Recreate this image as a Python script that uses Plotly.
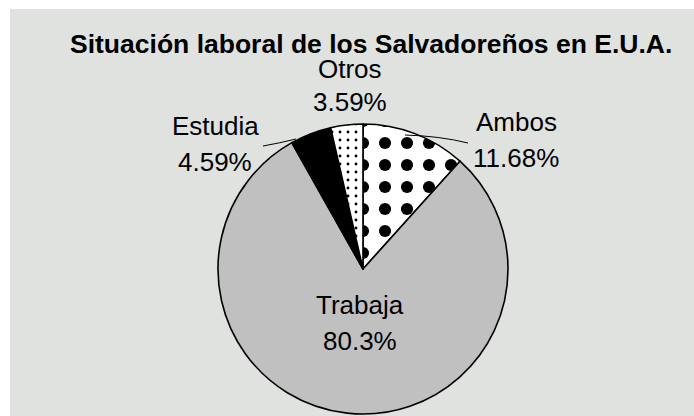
import plotly.graph_objects as go

W, H = 694, 416

# Data
categories = ["Ambos", "Trabaja", "Estudia", "Otros"]
values = [11.68, 80.3, 4.59, 3.59]
pct_labels = ["11.68%", "80.3%", "4.59%", "3.59%"]
title_text = "Situación laboral de los Salvadoreños en E.U.A."

# Styles
slice_colors = ["white", "#C0C0C0", "black", "white"]
pattern_shapes = [".", "", "", "."]
pattern_sizes = [22, 10, 10, 8]
pattern_solidity = [0.24, 0.1, 0.1, 0.1]

def px(x):
    return x / W

def py(y):
    return 1 - y / H

fig = go.Figure()
fig.add_trace(go.Pie(
    labels=categories,
    values=values,
    sort=False,
    direction="clockwise",
    rotation=0,
    textinfo="none",
    hoverinfo="label+percent",
    showlegend=False,
    marker=dict(
        colors=slice_colors,
        line=dict(color="black", width=1.6),
        pattern=dict(shape=pattern_shapes, size=pattern_sizes,
                     solidity=pattern_solidity, fgcolor="black",
                     fillmode="replace"),
    ),
    domain=dict(x=[px(218), px(508)], y=[py(414), py(124)]),
))

FONT = "Liberation Sans, Arial, sans-serif"
label_pos = {
    "Ambos": (516, 122, 158),
    "Trabaja": (360, 305, 341),
    "Estudia": (215, 126, 162),
    "Otros": (350, 69, 102),
}

annotations = [dict(
    text="<b>" + title_text + "</b>", x=px(371), y=py(44),
    xref="paper", yref="paper", xanchor="center", yanchor="middle",
    showarrow=False, font=dict(family=FONT, size=26.5, color="black"))]
for cat, pct in zip(categories, pct_labels):
    cx, y1, y2 = label_pos[cat]
    for t, yy in ((cat, y1), (pct, y2)):
        annotations.append(dict(
            text=t, x=px(cx), y=py(yy), xref="paper", yref="paper",
            xanchor="center", yanchor="middle", showarrow=False,
            font=dict(family=FONT, size=26, color="black")))

def path(pts):
    (x0, y0), (x1, y1), (x2, y2) = pts
    return (f"M {px(x0)},{py(y0)} Q {px(x1)},{py(y1)} {px(x2)},{py(y2)}")

shapes = [
    dict(type="rect", xref="paper", yref="paper", x0=px(10), x1=1,
         y0=0, y1=py(9), fillcolor="#DFE2DF", line=dict(width=0),
         layer="below"),
    dict(type="path", xref="paper", yref="paper",
         path=path([(263, 146), (280, 143), (296, 139)]),
         line=dict(color="black", width=1)),
    dict(type="path", xref="paper", yref="paper",
         path=path([(405, 135), (440, 136), (468, 143)]),
         line=dict(color="black", width=1)),
]

fig.update_layout(
    width=W, height=H,
    margin=dict(l=0, r=0, t=0, b=0),
    paper_bgcolor="white",
    plot_bgcolor="white",
    annotations=annotations,
    shapes=shapes,
)

fig.write_html("out.html",
               config={"displayModeBar": False},
               post_script="document.body.style.margin='0';"
                           "document.body.style.overflow='hidden';")
